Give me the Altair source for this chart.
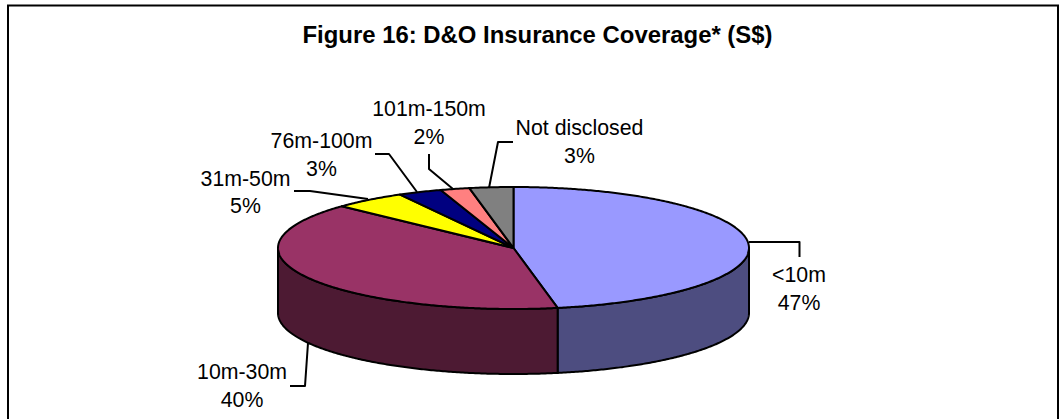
import numpy as np
import pandas as pd
import altair as alt

# Coverage bands and their share of companies, in percent
bands = ["<10m", "10m-30m", "31m-50m", "76m-100m", "101m-150m", "Not disclosed"]
shares = [47, 40, 5, 3, 2, 3]
top_colors = ["#9999FF", "#993366", "#FFFF00", "#000080", "#FF8080", "#808080"]
wall_colors = ["#4D4D80", "#4D1A33"]

W, H = 1059, 419
CX, CY, RX, RY, DEPTH = 513.5, 248, 235.5, 61, 65
FONT = "Liberation Sans"


def rim(t, drop=0.0):
    """Map clockwise angles (degrees from 12 o'clock) onto the tilted rim."""
    r = np.radians(t)
    return CX + RX * np.sin(r), CY - RY * np.cos(r) + drop


def sweep(a, b):
    return np.linspace(a, b, max(int(abs(b - a) * 2), 2))


def path_frame(xs, ys):
    return pd.DataFrame({"px": xs, "py": ys, "ord": range(len(xs))})


x_scale = alt.Scale(domain=[0, W], range=[0, W])
y_scale = alt.Scale(domain=[0, H], range=[0, H])
x_enc = alt.X("px:Q", scale=x_scale, axis=None)
y_enc = alt.Y("py:Q", scale=y_scale, axis=None)


def path_layer(frame, **mark):
    return (
        alt.Chart(frame)
        .mark_line(strokeJoin="round", clip=False, **mark)
        .encode(x=x_enc, y=y_enc, order="ord:Q")
    )


edges = np.concatenate([[0], np.cumsum(shares)]) * 3.6
layers = []

# Frame around the figure; its lower edge runs off the page
layers.append(
    alt.Chart(pd.DataFrame({"a": [0]}))
    .mark_rect(fill="white", stroke="black", strokeWidth=2)
    .encode(x=alt.value(8), x2=alt.value(1058), y=alt.value(5.5), y2=alt.value(440))
)

# Outer wall: only the two front slices reach the visible half of the rim
for i, (a, b) in enumerate([(90, edges[1]), (edges[1], 270)]):
    t = sweep(a, b)
    xt, yt = rim(t)
    xb, yb = rim(t[::-1], DEPTH)
    xs = np.concatenate([xt, xb, xt[:1]])
    ys = np.concatenate([yt, yb, yt[:1]])
    layers.append(path_layer(path_frame(xs, ys), fill=wall_colors[i], stroke="black", strokeWidth=2))

# Top face, one sector per band
for i, color in enumerate(top_colors):
    xt, yt = rim(sweep(edges[i], edges[i + 1]))
    xs = np.concatenate([[CX], xt, [CX]])
    ys = np.concatenate([[CY], yt, [CY]])
    layers.append(path_layer(path_frame(xs, ys), fill=color, stroke="black", strokeWidth=2))

# Leader lines from each label to its slice
leaders = [
    ([749, 799.5, 799.5], [242, 242, 257]),
    ([308, 305, 290], [343, 386, 386]),
    ([368, 310, 294], [199, 191, 191]),
    ([417, 389, 375], [192, 154, 154]),
    ([453, 429, 429], [189, 169, 154]),
    ([489, 498, 513], [188, 142, 142]),
]
for xs, ys in leaders:
    layers.append(path_layer(path_frame(xs, ys), stroke="black", strokeWidth=2))

# Two-line slice labels: band name over its percentage
label_x = [799, 242, 245.5, 321.5, 429, 579.5]
label_y = [276, 373, 179.5, 142, 110, 129]
label_rows = []
for band, share, lx, ly in zip(bands, shares, label_x, label_y):
    label_rows.append({"px": lx, "py": ly, "text": band})
    label_rows.append({"px": lx, "py": ly + 27.5, "text": f"{share}%"})
layers.append(
    alt.Chart(pd.DataFrame(label_rows))
    .mark_text(font=FONT, fontSize=21.3, color="black", align="center", baseline="middle")
    .encode(x=x_enc, y=y_enc, text="text:N")
)

title_rows = pd.DataFrame({"px": [537.5], "py": [43], "text": ["Figure 16: D&O Insurance Coverage* (S$)"]})
layers.append(
    alt.Chart(title_rows)
    .mark_text(font=FONT, fontSize=23.9, fontWeight="bold", color="black", align="center", baseline="alphabetic")
    .encode(x=x_enc, y=y_enc, text="text:N")
)

chart = (
    alt.layer(*layers)
    .properties(width=W, height=H, padding=0, autosize=alt.AutoSizeParams(type="none"), background="white")
    .configure_view(stroke=None)
)

chart.save("out.html", embed_options={"renderer": "svg", "actions": False})
